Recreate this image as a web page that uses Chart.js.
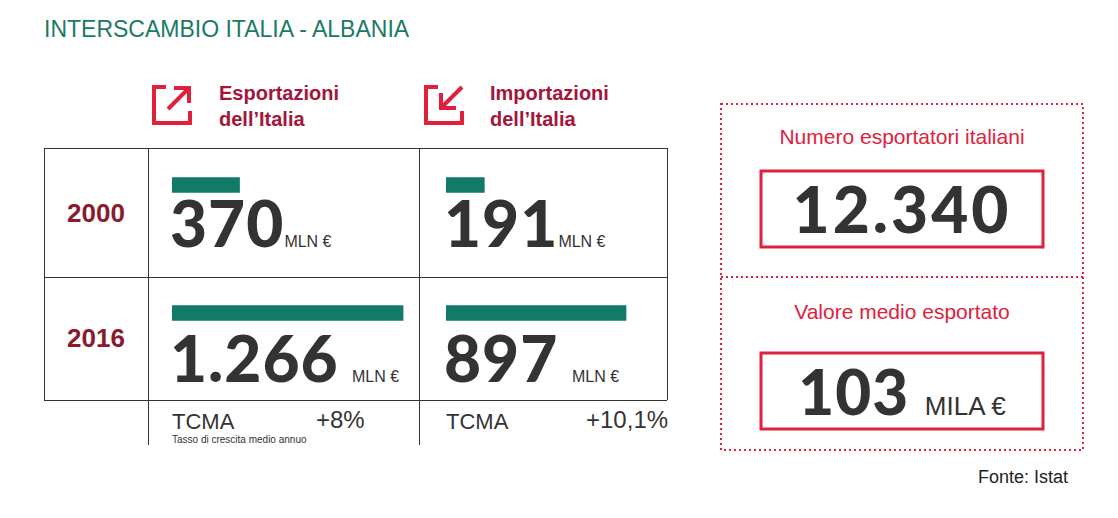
<!DOCTYPE html>
<html><head><meta charset="utf-8">
<script src="https://cdn.jsdelivr.net/npm/chart.js@4/dist/chart.umd.min.js"></script>
<style>
body{margin:0;width:1118px;height:518px;background:#fff;position:relative;overflow:hidden;font-family:"Liberation Sans",Arial,sans-serif}
.a{position:absolute;white-space:nowrap}
.big{font-family:Lato,"Liberation Sans",sans-serif;font-weight:900;color:#333;letter-spacing:1px}
.u{font-size:16px;color:#333;font-weight:normal;letter-spacing:0;font-family:"Liberation Sans",Arial,sans-serif}
.yr{color:#8a1a2e;font-weight:bold;font-size:26px;width:104px;text-align:center}
.hd{color:#a3163a;font-weight:bold;font-size:20px;line-height:26px}
.red{color:#e0203c}
</style></head><body>
<div class="a" style="left:44px;top:16px;font-size:23px;color:#1a7a66">INTERSCAMBIO ITALIA - ALBANIA</div>

<svg class="a" style="left:150px;top:83px" width="44" height="44"><path d="M16 4H4v36h36V28" fill="none" stroke="#e0203c" stroke-width="4"/><path d="M18 26L38 6M24 5h15v15" fill="none" stroke="#e0203c" stroke-width="4"/></svg>
<div class="a hd" style="left:219px;top:80px">Esportazioni<br>dell’Italia</div>
<svg class="a" style="left:422px;top:83px" width="44" height="44"><path d="M16 4H4v36h36V28" fill="none" stroke="#e0203c" stroke-width="4"/><path d="M40 4L20 24M19 10v15h15" fill="none" stroke="#e0203c" stroke-width="4"/></svg>
<div class="a hd" style="left:490px;top:80px">Importazioni<br>dell’Italia</div>

<svg class="a" style="left:0;top:0" width="1118" height="518">
<g stroke="#333" stroke-width="1">
<line x1="44" y1="148.5" x2="667" y2="148.5"/><line x1="44" y1="277.5" x2="667" y2="277.5"/><line x1="44" y1="400.5" x2="667" y2="400.5"/>
<line x1="44.5" y1="148" x2="44.5" y2="400"/><line x1="148.5" y1="148" x2="148.5" y2="445"/><line x1="419.5" y1="148" x2="419.5" y2="445"/><line x1="667.5" y1="148" x2="667.5" y2="400"/>
</g>
<g stroke="#e0203c" stroke-width="2" stroke-dasharray="2 3" fill="none">
<rect x="721" y="104" width="362" height="346"/><line x1="721" y1="277" x2="1083" y2="277"/>
</g>
<rect x="761" y="171" width="282" height="76" fill="none" stroke="#e0203c" stroke-width="3"/>
<rect x="761" y="353" width="282" height="76" fill="none" stroke="#e0203c" stroke-width="3"/>
</svg>

<div class="a yr" style="left:44px;top:198px">2000</div>
<div class="a yr" style="left:44px;top:323px">2016</div>

<div class="a big" style="left:170px;top:188px;font-size:64px;line-height:70px">370<span class="u">MLN €</span></div>
<div class="a big" style="left:444px;top:188px;font-size:64px;line-height:70px">191<span class="u">MLN €</span></div>
<div class="a big" style="left:170px;top:323px;font-size:64px;line-height:70px">1.266</div>
<div class="a u" style="left:352px;top:368px">MLN €</div>
<div class="a big" style="left:444px;top:323px;font-size:64px;line-height:70px">897</div>
<div class="a u" style="left:572px;top:368px">MLN €</div>

<div class="a" style="left:172px;top:409px;font-size:22px;color:#333">TCMA</div>
<div class="a" style="left:316px;top:406px;font-size:24px;color:#333">+8%</div>
<div class="a" style="left:172px;top:434px;font-size:10px;color:#333">Tasso di crescita medio annuo</div>
<div class="a" style="left:446px;top:409px;font-size:22px;color:#333">TCMA</div>
<div class="a" style="left:586px;top:406px;font-size:24px;color:#333">+10,1%</div>

<div class="a red" style="left:721px;width:362px;text-align:center;top:125px;font-size:21px">Numero esportatori italiani</div>
<div class="a big" style="left:761px;width:282px;text-align:center;top:174px;font-size:64px;line-height:70px;letter-spacing:3px">12.340</div>
<div class="a red" style="left:721px;width:362px;text-align:center;top:300px;font-size:21px">Valore medio esportato</div>
<div class="a big" style="left:761px;width:282px;text-align:center;top:356px;font-size:62px;line-height:70px">103 <span class="u" style="font-size:26px">MILA €</span></div>

<div class="a" style="right:50px;top:467px;font-size:18px;color:#222">Fonte: Istat</div>

<div class="a" style="left:172px;top:121px;width:240px;height:256px"><canvas id="exp"></canvas></div>
<div class="a" style="left:446px;top:121px;width:240px;height:256px"><canvas id="imp"></canvas></div>

<script>
var years = ['2000', '2016'];
var esportazioni = [370, 1266];
var importazioni = [191, 897];

function barConfig(values, max) {
   return {
      type: 'bar',
      data: { labels: years, datasets: [{ data: values, backgroundColor: '#117a68', barThickness: 15 }] },
      options: {
         indexAxis: 'y', responsive: true, maintainAspectRatio: false, animation: false,
         layout: { padding: 0 },
         plugins: { legend: { display: false }, tooltip: { enabled: false } },
         scales: {
            x: { display: false, min: 0, max: max },
            y: { display: false }
         }
      }
   };
}

new Chart(document.getElementById('exp'), barConfig(esportazioni, 1315));
new Chart(document.getElementById('imp'), barConfig(importazioni, 1196));
</script>
</body></html>
